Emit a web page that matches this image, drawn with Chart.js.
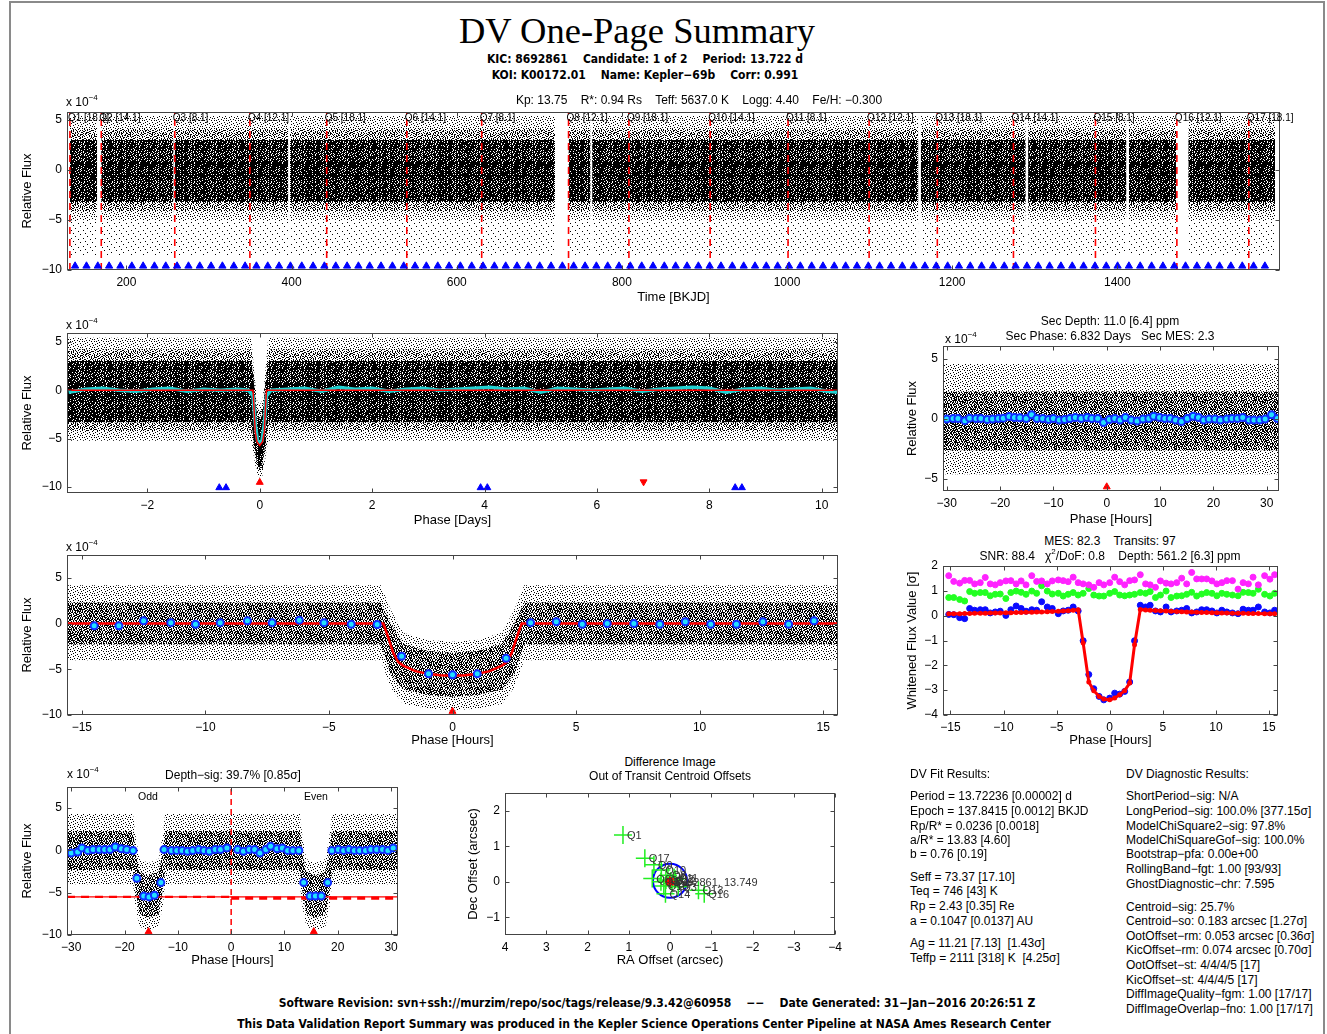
<!DOCTYPE html>
<html lang="en">
<head>
<meta charset="UTF-8">
<title>DV One-Page Summary</title>
<script src="https://cdn.jsdelivr.net/npm/chart.js@4.4.1/dist/chart.umd.min.js"></script>
<style>
    body { margin: 0; background: #fff; font-family: 'Liberation Sans', Arial, sans-serif; color: #000; }
    #page { position: relative; width: 1327px; height: 1034px; overflow: hidden; }
    #page canvas { position: absolute; }
    #border { position: absolute; left: 9px; top: 1px; width: 1316px; height: 1040px; border: 2px solid #8a8a8a; border-bottom: none; box-sizing: border-box; }
    .t { position: absolute; white-space: pre; line-height: 1; font-size: 12px; z-index: 2; }
    .c { transform: translate(-50%, -50%); }
    .l { transform: translate(0, -50%); }
    .b { font-family: 'Liberation Sans Narrow', 'DejaVu Sans Condensed', sans-serif; font-weight: bold; }
    sup { font-size: 8px; vertical-align: 6px; line-height: 0; }
</style>
</head>
<body>
<div id="page">
    <div id="border"></div>

    <div class="t c" style="left:637px;top:31px;font-family:'Liberation Serif',serif;font-size:36.5px;">DV One-Page Summary</div>
    <div class="t c b" style="left:645px;top:59px;">KIC: 8692861    Candidate: 1 of 2    Period: 13.722 d</div>
    <div class="t c b" style="left:645px;top:75px;">KOI: K00172.01    Name: Kepler−69b    Corr: 0.991</div>
    <div class="t c" style="left:699px;top:100px;">Kp: 13.75    R*: 0.94 Rs    Teff: 5637.0 K    Logg: 4.40    Fe/H: −0.300</div>

    <div class="t l" style="left:66px;top:102px;">x 10<sup>−4</sup></div>
    <div class="t l" style="left:66px;top:325px;">x 10<sup>−4</sup></div>
    <div class="t l" style="left:945px;top:339px;">x 10<sup>−4</sup></div>
    <div class="t l" style="left:66px;top:547px;">x 10<sup>−4</sup></div>
    <div class="t l" style="left:67px;top:774px;">x 10<sup>−4</sup></div>

    <div class="t c" style="left:1110px;top:321px;">Sec Depth: 11.0 [6.4] ppm</div>
    <div class="t c" style="left:1110px;top:336px;">Sec Phase: 6.832 Days   Sec MES: 2.3</div>
    <div class="t c" style="left:1110px;top:541px;">MES: 82.3    Transits: 97</div>
    <div class="t c" style="left:1110px;top:556px;">SNR: 88.4   χ<sup>2</sup>/DoF: 0.8    Depth: 561.2 [6.3] ppm</div>
    <div class="t c" style="left:233px;top:775px;">Depth−sig: 39.7% [0.85σ]</div>
    <div class="t c" style="left:148px;top:796px;font-size:10.5px;">Odd</div>
    <div class="t c" style="left:316px;top:796px;font-size:10.5px;">Even</div>
    <div class="t c" style="left:670px;top:762px;">Difference Image</div>
    <div class="t c" style="left:670px;top:776px;">Out of Transit Centroid Offsets</div>

    <div class="t l" style="left:910px;top:774px;">DV Fit Results:</div>
    <div class="t l" style="left:910px;top:796px;">Period = 13.72236 [0.00002] d</div>
    <div class="t l" style="left:910px;top:811px;">Epoch = 137.8415 [0.0012] BKJD</div>
    <div class="t l" style="left:910px;top:826px;">Rp/R* = 0.0236 [0.0018]</div>
    <div class="t l" style="left:910px;top:840px;">a/R* = 13.83 [4.60]</div>
    <div class="t l" style="left:910px;top:854px;">b = 0.76 [0.19]</div>
    <div class="t l" style="left:910px;top:877px;">Seff = 73.37 [17.10]</div>
    <div class="t l" style="left:910px;top:891px;">Teq = 746 [43] K</div>
    <div class="t l" style="left:910px;top:906px;">Rp = 2.43 [0.35] Re</div>
    <div class="t l" style="left:910px;top:921px;">a = 0.1047 [0.0137] AU</div>
    <div class="t l" style="left:910px;top:943px;">Ag = 11.21 [7.13]  [1.43σ]</div>
    <div class="t l" style="left:910px;top:958px;">Teffp = 2111 [318] K  [4.25σ]</div>

    <div class="t l" style="left:1126px;top:774px;">DV Diagnostic Results:</div>
    <div class="t l" style="left:1126px;top:796px;">ShortPeriod−sig: N/A</div>
    <div class="t l" style="left:1126px;top:811px;">LongPeriod−sig: 100.0% [377.15σ]</div>
    <div class="t l" style="left:1126px;top:826px;">ModelChiSquare2−sig: 97.8%</div>
    <div class="t l" style="left:1126px;top:840px;">ModelChiSquareGof−sig: 100.0%</div>
    <div class="t l" style="left:1126px;top:854px;">Bootstrap−pfa: 0.00e+00</div>
    <div class="t l" style="left:1126px;top:869px;">RollingBand−fgt: 1.00 [93/93]</div>
    <div class="t l" style="left:1126px;top:884px;">GhostDiagnostic−chr: 7.595</div>
    <div class="t l" style="left:1126px;top:907px;">Centroid−sig: 25.7%</div>
    <div class="t l" style="left:1126px;top:921px;">Centroid−so: 0.183 arcsec [1.27σ]</div>
    <div class="t l" style="left:1126px;top:936px;">OotOffset−rm: 0.053 arcsec [0.36σ]</div>
    <div class="t l" style="left:1126px;top:950px;">KicOffset−rm: 0.074 arcsec [0.70σ]</div>
    <div class="t l" style="left:1126px;top:965px;">OotOffset−st: 4/4/4/5 [17]</div>
    <div class="t l" style="left:1126px;top:980px;">KicOffset−st: 4/4/4/5 [17]</div>
    <div class="t l" style="left:1126px;top:994px;">DiffImageQuality−fgm: 1.00 [17/17]</div>
    <div class="t l" style="left:1126px;top:1009px;">DiffImageOverlap−fno: 1.00 [17/17]</div>

    <div class="t c b" style="left:657px;top:1003px;">Software Revision: svn+ssh://murzim/repo/soc/tags/release/9.3.42@60958    −−    Date Generated: 31−Jan−2016 20:26:51 Z</div>
    <div class="t c b" style="left:644px;top:1024px;">This Data Validation Report Summary was produced in the Kepler Science Operations Center Pipeline at NASA Ames Research Center</div>

    <canvas id="c1"></canvas>
    <canvas id="c2"></canvas>
    <canvas id="c3"></canvas>
    <canvas id="c4"></canvas>
    <canvas id="c5"></canvas>
    <canvas id="c6"></canvas>
    <canvas id="c7"></canvas>
</div>

<script>
    // ---- data ----

    // time series (BKJD), flux in units of 1e-4
    const quarterStart = [131.5, 169.5, 258.5, 349.5, 442.5, 539.5, 630.2, 735.4, 808.5, 906.9, 1001.2, 1099.4, 1182.0, 1274.2, 1373.5, 1472.1, 1559.2];
    const quarterLabel = ['Q1 [18.1]', 'Q2 [14.1]', 'Q3 [8.1]', 'Q4 [12.1]', 'Q5 [18.1]', 'Q6 [14.1]', 'Q7 [8.1]', 'Q8 [12.1]', 'Q9 [18.1]',
        'Q10 [14.1]', 'Q11 [8.1]', 'Q12 [12.1]', 'Q13 [18.1]', 'Q14 [14.1]', 'Q15 [8.1]', 'Q16 [12.1]', 'Q17 [18.1]'];
    const segStart = [131.5, 169.5, 258.5, 398, 735.4, 764, 1162, 1292, 1414, 1486];
    const segEnd = [164.5, 257, 396, 719, 762, 1159, 1289, 1411, 1471, 1591];
    const tsCore = [3.0, -3.2];
    const tsMid = [4.1, -4.1];
    const tsHalo = [5.4, -5.0];
    const tsOutlierLow = -8.5;
    const transitTimes = [137.8, 151.6, 165.3, 179.0, 192.7, 206.5, 220.2, 233.9, 247.6, 261.3, 275.1, 288.8, 302.5, 316.2, 330.0, 343.7,
        357.4, 371.1, 384.8, 398.6, 412.3, 426.0, 439.7, 453.5, 467.2, 480.9, 494.6, 508.3, 522.1, 535.8, 549.5, 563.2, 577.0, 590.7,
        604.4, 618.1, 631.8, 645.6, 659.3, 673.0, 686.7, 700.5, 714.2, 727.9, 741.6, 755.4, 769.1, 782.8, 796.5, 810.2, 824.0, 837.7,
        851.4, 865.1, 878.9, 892.6, 906.3, 920.0, 933.7, 947.5, 961.2, 974.9, 988.6, 1002.4, 1016.1, 1029.8, 1043.5, 1057.2, 1071.0,
        1084.7, 1098.4, 1112.1, 1125.9, 1139.6, 1153.3, 1167.0, 1180.7, 1194.5, 1208.2, 1221.9, 1235.6, 1249.4, 1263.1, 1276.8, 1290.5,
        1304.2, 1318.0, 1331.7, 1345.4, 1359.1, 1372.9, 1386.6, 1400.3, 1414.0, 1427.7, 1441.5, 1455.2, 1468.9, 1482.6, 1496.4, 1510.1,
        1523.8, 1537.5, 1551.3, 1565.0, 1578.7];

    // folded light curve (phase in days)
    const foldCloudX = [-3.43, -0.15, -0.1, -0.05, 0, 0.05, 0.1, 0.15, 10.29];
    const foldCoreHi = [3, 3, 0.5, -2.5, -3, -2.5, 0.5, 3, 3];
    const foldCoreLo = [-3.3, -3.3, -5.5, -7.5, -8, -7.5, -5.5, -3.3, -3.3];
    const foldMidHi = [4.2, 4.2, 1.2, -1.8, -2.2, -1.8, 1.2, 4.2, 4.2];
    const foldMidLo = [-4.2, -4.2, -6.2, -8.2, -8.5, -8.2, -6.2, -4.2, -4.2];
    const foldHaloHi = [5.4, 5.4, 2, -1, -1.5, -1, 2, 5.4, 5.4];
    const foldHaloLo = [-5.2, -5.2, -7, -8.8, -9, -8.8, -7, -5.2, -5.2];
    const foldModelX = [-3.43, -0.12, -0.1, -0.08, -0.05, 0, 0.05, 0.08, 0.1, 0.12, 10.29];
    const foldModelY = [0, 0, -2, -4.3, -5.3, -5.7, -5.3, -4.3, -2, 0, 0];
    const foldBinX = [-3.4, -3.1, -2.8, -2.5, -2.2, -1.9, -1.6, -1.3, -1.0, -0.7, -0.4, -0.2, -0.12, -0.08, -0.04, 0, 0.04, 0.08, 0.12, 0.2,
        0.5, 0.8, 1.1, 1.4, 1.7, 2.0, 2.3, 2.6, 2.9, 3.2, 3.5, 3.8, 4.1, 4.4, 4.7, 5.0, 5.3, 5.6, 5.9, 6.2, 6.5, 6.8, 7.1, 7.4, 7.7,
        8.0, 8.3, 8.6, 8.9, 9.2, 9.5, 9.8, 10.1, 10.29];
    const foldBinY = [-0.2, 0.1, 0.2, 0, -0.1, 0.1, 0.2, -0.1, 0.1, 0, 0.1, 0, -0.6, -3.5, -5.2, -5.4, -5.2, -3.5, -0.6, 0,
        0.1, 0.2, -0.1, 0.3, 0.1, 0.2, -0.1, 0.1, 0.2, 0, 0.1, 0.2, 0.3, 0.1, 0.2, -0.2, 0.2, 0.1, 0, 0.1, 0.2, -0.1, 0.1, 0.2, 0.3,
        0.2, -0.2, 0.1, 0.2, 0, 0.1, 0.2, -0.1, -0.2];
    const otherTransits = [-0.72, -0.6, 3.93, 4.05, 8.46, 8.58];
    const secPhaseDays = 6.83;

    // secondary eclipse search (hours)
    const secCloudX = [-30.7, 32.3];
    const secCore = [2.3, -2.6];
    const secHalo = [4.6, -4.6];
    const secBinX = [-30, -28.8, -27.9, -26.6, -25.7, -24.5, -23.6, -22.4, -21.4, -20.3, -19.4, -18.3, -17.3, -16.3, -15.1, -14.1, -13.1,
        -12.0, -10.9, -10.0, -8.9, -7.9, -6.9, -5.9, -4.8, -3.7, -2.8, -1.7, -0.6, 0.5, 1.5, 2.5, 3.5, 4.6, 5.7, 6.8, 7.9, 8.8, 9.9,
        10.9, 11.9, 12.9, 14.0, 15.1, 16.2, 17.2, 18.2, 19.2, 20.3, 21.3, 22.5, 23.5, 24.5, 25.5, 26.7, 27.6, 28.7, 29.7, 30.9, 32.0];
    const secBinY = [0, 0.05, 0.05, -0.13, 0.08, 0.05, 0.05, -0.03, 0, 0.05, 0.08, 0.21, 0.13, 0.11, 0.05, 0.37, 0.05, 0.05, -0.03, 0.05,
        -0.08, -0.03, 0.05, 0.13, 0.05, 0.13, 0.05, 0.05, -0.29, -0.03, 0.05, -0.08, 0.13, -0.08, -0.16, 0, 0.05, 0.24, 0.13, 0.05,
        0.05, -0.08, -0.21, 0.05, 0.24, 0.13, -0.08, 0, 0, -0.08, 0, 0.05, 0.05, 0.13, -0.08, -0.08, -0.08, 0, 0.37, 0.05];

    // transit close-up (hours)
    const zoomCloudX = [-15.6, -2.9, -2.5, -2.0, -1.0, 0, 1.0, 2.0, 2.5, 2.9, 15.6];
    const zoomCoreHi = [2.3, 2.3, 0, -2.2, -3, -3.2, -3, -2.2, 0, 2.3, 2.3];
    const zoomCoreLo = [-2.3, -2.3, -5.5, -7.2, -7.8, -8, -7.8, -7.2, -5.5, -2.3, -2.3];
    const zoomHaloHi = [4.2, 4.2, 1.5, -1, -1.8, -2, -1.8, -1, 1.5, 4.2, 4.2];
    const zoomHaloLo = [-4, -4, -7, -8.8, -9.3, -9.5, -9.3, -8.8, -7, -4, -4];
    const zoomModelX = [-15.6, -2.8, -2.6, -2.4, -2.2, -2.0, -1.5, -1.0, -0.5, 0, 0.5, 1.0, 1.5, 2.0, 2.2, 2.4, 2.6, 2.8, 15.6];
    const zoomModelY = [0, 0, -1.5, -3.2, -4.2, -4.6, -5.2, -5.5, -5.65, -5.7, -5.65, -5.5, -5.2, -4.6, -4.2, -3.2, -1.5, 0, 0];
    const zoomBinX = [-14.5, -13.5, -12.5, -11.4, -10.4, -9.4, -8.3, -7.3, -6.2, -5.2, -4.1, -3.05, -2.06, -0.97, 0, 1.0, 2.17, 3.16,
        4.2, 5.25, 6.26, 7.34, 8.39, 9.42, 10.45, 11.49, 12.56, 13.6, 14.63];
    const zoomBinY = [-0.25, -0.25, 0.3, 0.1, -0.07, 0.1, 0.3, 0.1, 0.37, 0.1, -0.07, -0.1, -3.57, -5.5, -5.6, -5.5, -3.8, 0.1,
        0.2, -0.07, 0, 0, -0.07, 0.2, -0.07, -0.07, 0.2, -0.07, 0.3];

    // whitened flux (sigma)
    const whitenX = [-15.16, -14.69, -14.13, -13.66, -13.19, -12.72, -12.19, -11.72, -11.25, -10.78, -10.31, -9.78, -9.31, -8.81, -8.34,
        -7.88, -7.34, -6.88, -6.41, -5.88, -5.41, -4.84, -4.38, -3.91, -3.44, -2.97, -2.5, -1.97, -1.5, -1.0, -0.56, 0, 0.47, 0.94,
        1.41, 1.88, 2.34, 2.88, 3.38, 3.81, 4.31, 4.78, 5.31, 5.78, 6.31, 6.78, 7.25, 7.72, 8.19, 8.66, 9.13, 9.63, 10.09, 10.56,
        11.03, 11.56, 12.09, 12.56, 13.06, 13.5, 14.0, 14.59, 15.09, 15.53];
    const whitenMagenta = [1.61, 1.38, 1.31, 1.42, 1.42, 1.28, 1.33, 1.54, 1.28, 1.24, 1.33, 1.40, 1.41, 1.28, 1.40, 1.24, 1.61, 1.38,
        1.40, 1.28, 1.40, 1.44, 1.41, 1.37, 1.55, 1.33, 1.28, 1.24, 1.14, 1.33, 1.24, 1.33, 1.55, 1.37, 1.24, 1.41, 1.44, 1.65, 1.28,
        1.24, 1.14, 1.40, 1.31, 1.28, 1.33, 1.51, 1.28, 1.74, 1.48, 1.48, 1.48, 1.40, 1.28, 1.33, 1.41, 1.41, 1.07, 1.33, 1.28, 1.55,
        1.24, 1.61, 1.47, 1.65];
    const whitenGreen = [0.73, 0.73, 0.65, 0.59, 0.97, 0.90, 0.93, 0.93, 0.80, 0.86, 0.87, 0.69, 0.93, 0.99, 0.94, 0.86, 0.99, 0.90,
        1.20, 0.99, 0.87, 0.90, 0.79, 0.86, 0.93, 0.83, 0.90, 1.09, 0.83, 0.79, 0.79, 0.90, 0.97, 0.83, 0.80, 0.83, 0.86, 0.93, 0.90,
        0.97, 0.73, 0.83, 0.99, 0.73, 0.79, 0.80, 0.86, 0.94, 0.79, 0.87, 0.93, 0.90, 0.80, 0.90, 0.86, 0.83, 0.80, 0.94, 0.93, 0.90,
        1.06, 0.86, 0.79, 0.90];
    const whitenBlue = [0.05, 0.04, -0.08, -0.12, 0.29, 0.22, 0.24, 0.24, 0.11, 0.15, 0.18, 0.01, 0.24, 0.39, 0.29, 0.18, 0.24, 0.22,
        0.56, 0.35, 0.29, 0.08, 0.19, 0.22, 0.35, 0.19, -1.01, -2.37, -2.94, -3.25, -3.39, -3.32, -3.12, -3.16, -3.05, -2.67, -1.01,
        0.42, 0.35, 0.42, 0.19, 0.15, 0.35, 0.15, 0.19, 0.22, 0.29, 0.11, 0.15, 0.24, 0.24, 0.19, 0.11, 0.22, 0.15, 0.11, 0.08, 0.26,
        0.22, 0.22, 0.35, 0.15, 0.11, 0.22];
    const whitenModel = [0.08, 0.08, 0.08, 0.09, 0.09, 0.1, 0.1, 0.1, 0.11, 0.11, 0.11, 0.12, 0.12, 0.13, 0.13, 0.14, 0.14, 0.15, 0.15,
        0.16, 0.17, 0.18, 0.19, 0.2, 0.22, 0.24, -1.1, -2.67, -3.02, -3.25, -3.36, -3.39, -3.32, -3.18, -3.02, -2.71, -1.17, 0.25,
        0.23, 0.22, 0.21, 0.2, 0.19, 0.18, 0.17, 0.16, 0.15, 0.15, 0.14, 0.13, 0.13, 0.12, 0.12, 0.11, 0.11, 0.1, 0.1, 0.1, 0.09,
        0.09, 0.09, 0.08, 0.08, 0.08];

    // odd / even transits (hours)
    const oeCloudX = [-30.8, -18.4, -18.0, -17.2, -15.5, -13.6, -12.8, -12.4, 12.9, 13.3, 14.1, 15.8, 17.7, 18.5, 18.9, 31.3];
    const oeCoreHi = [2.3, 2.3, 0, -2.5, -3, -2.5, 0, 2.3, 2.3, 0, -2.5, -3, -2.5, 0, 2.3, 2.3];
    const oeCoreLo = [-2.3, -2.3, -4.5, -7.5, -8, -7.5, -4.5, -2.3, -2.3, -4.5, -7.5, -8, -7.5, -4.5, -2.3, -2.3];
    const oeHaloHi = [4.3, 4.3, 2, -1, -1.5, -1, 2, 4.3, 4.3, 2, -1, -1.5, -1, 2, 4.3, 4.3];
    const oeHaloLo = [-4, -4, -6.5, -9, -9.5, -9, -6.5, -4, -4, -6.5, -9, -9.5, -9, -6.5, -4, -4];
    const oeBinX = [-30, -28.8, -28, -26.9, -25.9, -24.75, -23.75, -22.75, -21.75, -20.6, -19.6, -18.4, -17.7, -16.4, -15.4, -14.4, -13.2,
        -12.6, -11.2, -10.2, -9.2, -8.2, -7.2, -6.1, -5.1, -4.1, -3, -2, -0.8, 1.2, 2.3, 3.4, 4.4, 5.4, 6.5, 7.4, 8.6, 9.6, 10.6,
        11.6, 12.7, 13.6, 14.8, 15.8, 16.9, 18.1, 18.9, 20.1, 21.1, 22.1, 23.1, 24.1, 25.2, 26.2, 27.3, 28.4, 29.4, 30.4];
    const oeBinY = [-0.3, -0.2, 0.3, 0, 0.1, 0.1, 0.1, 0.1, 0.4, 0.2, 0.1, 0, -3.3, -5.4, -5.5, -5.3, -3.8, 0.1, 0, 0, 0, -0.1, 0, 0.1,
        0, -0.1, 0.1, 0.1, 0.3, 0.1, -0.1, 0.1, 0.1, -0.3, 0.1, 0.5, 0.2, 0.3, 0, 0, 0, -3.8, -5.4, -5.4, -5.4, -3.8, 0, 0.1, 0, 0.1,
        0, 0, 0, 0.1, 0.1, 0.1, 0, 0.3];
    const oeTransitCentres = [-15.5, 15.5];
    const depthOdd = -5.5;
    const depthEven = -5.65;

    // centroid offsets (arcsec)
    const centRA = [1.14, 0.61, 0.39, 0.21, 0.43, 0.22, 0.11, -0.13, -0.2, -0.69, -0.83, 0.05, -0.05, 0.1, -0.1, 0.15, -0.02];
    const centDec = [1.32, 0.66, 0.48, 0.33, 0.09, 0.0, -0.34, 0.07, -0.14, -0.24, -0.34, 0.18, -0.05, 0.05, 0.12, -0.12, 0.02];
    const centLabel = ['Q1', 'Q17', 'Q9', 'Q10', 'Q6', 'Q5', 'Q14', 'Q2', 'Q3', 'Q13', 'Q16', 'Q8', 'Q4', 'Q7', 'Q11', 'Q15', 'Q12'];
    const kicPos = [0, 0];
    const kicLabel = '8692861, 13.749';

    // ---- drawing ----
    Chart.defaults.font.family = "'Liberation Sans', Arial, sans-serif";
    Chart.defaults.font.size = 12;
    Chart.defaults.color = '#000';

    const RED = '#ff0000', BLUE = '#0000ff';
    const pts = (xs, ys) => xs.map((x, i) => ({x: x, y: ys[i]}));
    const minus = v => String(v).replace('-', '\u2212');

    // speckle textures standing in for the dense point clouds
    function speckle(rows) {
        const c = document.createElement('canvas');
        c.width = rows[0].length; c.height = rows.length;
        const g = c.getContext('2d');
        g.fillStyle = '#000';
        rows.forEach((r, j) => [...r].forEach((ch, i) => { if (ch === '#') g.fillRect(i, j, 1, 1); }));
        return g.createPattern(c, 'repeat');
    }
    const DENSE = speckle(['##.###.##.#', '.####.###.#', '###.##.####', '#.##.####.#', '####.#.##.#', '.##.####.##',
        '#.####.#.##', '###.#.####.']);
    const MEDIUM = speckle(['#.#..#.##.', '.##.#..#.#', '#..#.##..#', '.#.#..#.#.', '##..#.#..#', '.#.##..#.#', '#.#..##.#.']);
    const LIGHT = speckle(['#..#....#..', '..#...#...#', '#....#..#..', '...#.....#.', '.#...#.#...', '....#....#.', '#.#....#...']);
    const SPARSE = speckle(['#....#......', '...#.....#..', '.#.....#....', '.....#....#.', '#.#.........', '......#..#..',
        '..#.#......#', '.......#....']);
    const FAINT = speckle(['#...........', '............', '.......#....', '............', '...#........', '..........#.',
        '............', '.....#......']);

    function band(xs, hi, lo, fill) {
        return [
            {type: 'line', data: pts(xs, hi), fill: '+1', backgroundColor: fill, borderColor: 'rgba(0,0,0,0)', pointRadius: 0, order: 20},
            {type: 'line', data: pts(xs, lo), fill: false, borderColor: 'rgba(0,0,0,0)', pointRadius: 0, order: 20}
        ];
    }
    const flat = (s, e, hi, lo, fill) => band([s, e], [hi, hi], [lo, lo], fill);
    function line(data, color, width, dash, order) {
        return {type: 'line', data: data, borderColor: color, borderWidth: width, borderDash: dash || [], pointRadius: 0, fill: false, order: order || 5};
    }
    function marks(data, style, color, radius, extra) {
        return Object.assign({type: 'scatter', data: data, pointStyle: style, pointRadius: radius, backgroundColor: color,
            borderColor: color, borderWidth: 1, order: 1}, extra || {});
    }
    const binned = (xs, ys) => marks(pts(xs, ys), 'circle', '#22e0ff', 3.5, {borderColor: '#1030ff', borderWidth: 2});

    function panel(id, rect, pad, xa, ya, datasets, extraDraw) {
        const [L, T, R, B] = rect, [pl, pt, pr, pb] = pad;
        const cv = document.getElementById(id);
        const w = R - L + pl + pr, h = B - T + pt + pb;
        cv.width = w; cv.height = h;
        cv.style.left = (L - pl) + 'px'; cv.style.top = (T - pt) + 'px';
        cv.style.width = w + 'px'; cv.style.height = h + 'px';
        const axis = (a, size, isX) => ({
            type: 'linear', min: a.min, max: a.max, reverse: !!a.reverse,
            grid: {display: false, drawTicks: false}, border: {display: false},
            ticks: {padding: 5, maxRotation: 0, autoSkip: false, callback: v => minus(v)},
            afterBuildTicks: s => { s.ticks = a.ticks.map(v => ({value: v})); },
            afterFit: s => { if (isX) s.height = size; else s.width = size; },
            title: {display: true, text: a.title, font: {size: 13}, padding: {top: 0, bottom: 2}}
        });
        const framePlugin = {
            id: 'frame',
            afterDatasetsDraw(chart) {
                const {ctx, chartArea: a} = chart;
                const xs = chart.scales.x, ys = chart.scales.y;
                const l = Math.round(a.left) + 0.5, r = Math.round(a.right) - 0.5;
                const t = Math.round(a.top) + 0.5, b = Math.round(a.bottom) - 0.5;
                ctx.save();
                ctx.strokeStyle = '#444';
                ctx.lineWidth = 1;
                ctx.strokeRect(l, t, r - l, b - t);
                ctx.beginPath();
                xs.ticks.forEach(k => {
                    const p = Math.round(xs.getPixelForValue(k.value)) + 0.5;
                    ctx.moveTo(p, b); ctx.lineTo(p, b - 4);
                    ctx.moveTo(p, t); ctx.lineTo(p, t + 4);
                });
                ys.ticks.forEach(k => {
                    const p = Math.round(ys.getPixelForValue(k.value)) + 0.5;
                    ctx.moveTo(l, p); ctx.lineTo(l + 4, p);
                    ctx.moveTo(r, p); ctx.lineTo(r - 4, p);
                });
                ctx.stroke();
                if (extraDraw) extraDraw(chart, ctx, xs, ys, a);
                ctx.restore();
            }
        };
        return new Chart(cv, {
            type: 'scatter',
            data: {datasets: datasets},
            options: {
                responsive: false, animation: false, devicePixelRatio: 1,
                layout: {padding: {left: 0, top: pt, right: pr, bottom: 0}},
                plugins: {legend: {display: false}, tooltip: {enabled: false}},
                scales: {x: axis(xa, pb, true), y: axis(ya, pl, false)}
            },
            plugins: [framePlugin]
        });
    }

    // 1. full time series
    const ts = [];
    segStart.forEach((s, i) => {
        const e = segEnd[i];
        ts.push(...flat(s, e, tsCore[0], tsCore[1], DENSE));
        ts.push(...flat(s, e, tsMid[0], tsMid[1], LIGHT));
        ts.push(...flat(s, e, tsHalo[0], tsHalo[1], SPARSE));
        ts.push(...flat(s, e, tsHalo[1], tsOutlierLow, FAINT));
    });
    ts.push(line(quarterStart.flatMap(q => [{x: q, y: -10}, {x: q, y: 5.8}, {x: q, y: null}]), RED, 1.6, [7, 5], 3));
    ts.push(marks(transitTimes.map(t => ({x: t, y: -9.6})), 'triangle', BLUE, 4.2));
    panel('c1', [67, 112, 1280, 270], [47, 14, 18, 37],
        {min: 128, max: 1597, ticks: [200, 400, 600, 800, 1000, 1200, 1400], title: 'Time [BKJD]'},
        {min: -10, max: 5.8, ticks: [-10, -5, 0, 5], title: 'Relative Flux'},
        ts,
        (chart, ctx, xs, ys, a) => {
            ctx.font = "10px 'Liberation Sans', Arial, sans-serif";
            ctx.fillStyle = '#000';
            ctx.textBaseline = 'top';
            quarterStart.forEach((q, i) => ctx.fillText(quarterLabel[i], xs.getPixelForValue(q) - 2, a.top + 1));
        });

    // 2. folded light curve
    panel('c2', [67, 333, 838, 493], [47, 14, 16, 37],
        {min: -3.43, max: 10.29, ticks: [-2, 0, 2, 4, 6, 8, 10], title: 'Phase [Days]'},
        {min: -10.6, max: 5.9, ticks: [-10, -5, 0, 5], title: 'Relative Flux'},
        [
            ...band(foldCloudX, foldCoreHi, foldCoreLo, DENSE),
            ...band(foldCloudX, foldMidHi, foldMidLo, LIGHT),
            ...band(foldCloudX, foldHaloHi, foldHaloLo, SPARSE),
            line(pts(foldBinX, foldBinY), '#20d0d0', 3.5, null, 4),
            line(pts(foldModelX, foldModelY), RED, 1.5, null, 3),
            marks(otherTransits.map(x => ({x: x, y: -10.05})), 'triangle', BLUE, 4),
            marks([{x: 0, y: -9.5}], 'triangle', RED, 4),
            marks([{x: secPhaseDays, y: -9.45}], 'triangle', RED, 4, {rotation: 180})
        ]);

    // 3. secondary eclipse
    panel('c3', [943, 346, 1279, 491], [38, 14, 16, 38],
        {min: -30.7, max: 32.3, ticks: [-30, -20, -10, 0, 10, 20, 30], title: 'Phase [Hours]'},
        {min: -6, max: 6.1, ticks: [-5, 0, 5], title: 'Relative Flux'},
        [
            ...flat(secCloudX[0], secCloudX[1], secCore[0], secCore[1], MEDIUM),
            ...flat(secCloudX[0], secCloudX[1], secHalo[0], secHalo[1], SPARSE),
            line(pts(secBinX, secBinY), BLUE, 1.5, null, 3),
            binned(secBinX, secBinY),
            marks([{x: 0, y: -5.65}], 'triangle', RED, 4)
        ]);

    // 4. transit close-up
    panel('c4', [67, 555, 838, 715], [47, 14, 16, 35],
        {min: -15.6, max: 15.6, ticks: [-15, -10, -5, 0, 5, 10, 15], title: 'Phase [Hours]'},
        {min: -10, max: 7.5, ticks: [-10, -5, 0, 5], title: 'Relative Flux'},
        [
            ...band(zoomCloudX, zoomCoreHi, zoomCoreLo, MEDIUM),
            ...band(zoomCloudX, zoomHaloHi, zoomHaloLo, SPARSE),
            line(pts(zoomModelX, zoomModelY), RED, 2.5, null, 3),
            binned(zoomBinX, zoomBinY),
            marks([{x: 0, y: -9.6}], 'triangle', RED, 4)
        ]);

    // 5. whitened flux
    panel('c5', [943, 566, 1278, 715], [38, 14, 16, 35],
        {min: -15.7, max: 15.85, ticks: [-15, -10, -5, 0, 5, 10, 15], title: 'Phase [Hours]'},
        {min: -4, max: 2, ticks: [-4, -3, -2, -1, 0, 1, 2], title: 'Whitened Flux Value [σ]'},
        [
            marks(pts(whitenX, whitenMagenta), 'circle', '#ff22ff', 3, {order: 2}),
            marks(pts(whitenX, whitenGreen), 'circle', '#22ff22', 3, {order: 2}),
            marks(pts(whitenX, whitenBlue), 'circle', '#0a0aff', 3, {order: 2}),
            Object.assign(line(pts(whitenX, whitenModel), RED, 3, null, 1), {pointRadius: 2.5, pointBackgroundColor: RED, pointBorderWidth: 0})
        ]);

    // 6. odd / even
    panel('c6', [67, 787, 398, 935], [47, 14, 16, 35],
        {min: -30.8, max: 31.3, ticks: [-30, -20, -10, 0, 10, 20, 30], title: 'Phase [Hours]'},
        {min: -10, max: 7.5, ticks: [-10, -5, 0, 5], title: 'Relative Flux'},
        [
            ...band(oeCloudX, oeCoreHi, oeCoreLo, MEDIUM),
            ...band(oeCloudX, oeHaloHi, oeHaloLo, SPARSE),
            line([{x: 0, y: -10}, {x: 0, y: 7.5}], RED, 1.5, [6, 4], 3),
            line([{x: -30.8, y: depthOdd}, {x: 31.3, y: depthOdd}], RED, 1.3, null, 3),
            line([{x: -30.8, y: depthOdd}, {x: 0, y: depthOdd}], RED, 2.2, [8, 6], 3),
            line([{x: 0, y: depthEven}, {x: 31.3, y: depthEven}], RED, 3.2, [8, 6], 3),
            binned(oeBinX, oeBinY),
            marks(oeTransitCentres.map(x => ({x: x, y: -9.6})), 'triangle', RED, 4)
        ]);

    // 7. centroid offsets
    panel('c7', [505, 788, 838, 935], [39, 14, 16, 35],
        {min: -4, max: 4, reverse: true, ticks: [4, 3, 2, 1, 0, -1, -2, -3, -4], title: 'RA Offset (arcsec)'},
        {min: -1.5, max: 2.5, ticks: [-1, 0, 1, 2], title: 'Dec Offset (arcsec)'},
        [
            marks([{x: 0, y: 0.03}], 'circle', BLUE, 17, {backgroundColor: 'rgba(0,0,0,0)', borderWidth: 2, order: 3}),
            marks(pts(centRA, centDec), 'cross', '#22ee22', 9, {borderWidth: 1.5, order: 2}),
            marks([{x: kicPos[0], y: kicPos[1]}], 'star', RED, 5, {borderWidth: 2, order: 1})
        ],
        (chart, ctx, xs, ys) => {
            ctx.font = "11px 'Liberation Sans', Arial, sans-serif";
            ctx.fillStyle = '#333';
            ctx.textBaseline = 'middle';
            centRA.forEach((ra, i) => ctx.fillText(centLabel[i], xs.getPixelForValue(ra) + 4, ys.getPixelForValue(centDec[i]) + 1));
            ctx.fillText(kicLabel, xs.getPixelForValue(kicPos[0]) + 5, ys.getPixelForValue(kicPos[1]) + 1);
        });
</script>
</body>
</html>
